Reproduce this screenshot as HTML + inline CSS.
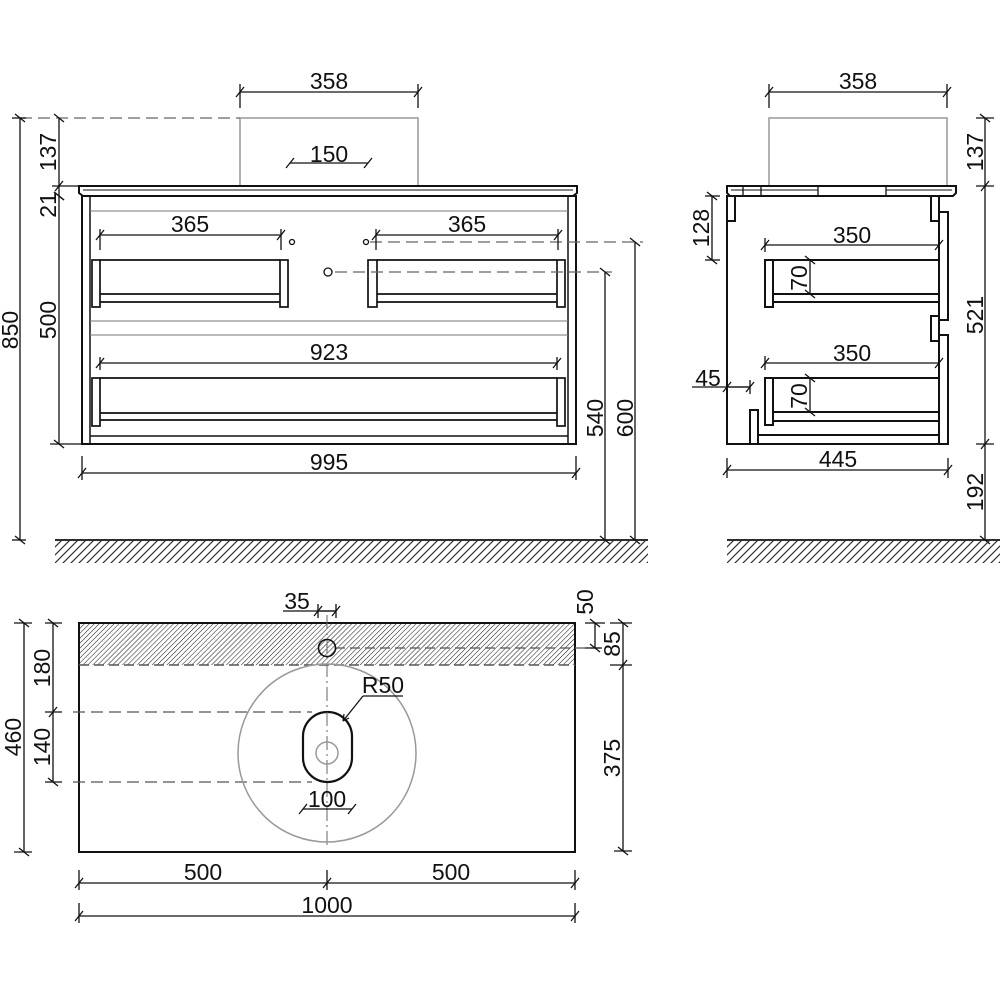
<!DOCTYPE html>
<html><head><meta charset="utf-8"><style>
html,body{margin:0;padding:0;background:#fff;}
svg{display:block;}
text{font-family:"Liberation Sans",sans-serif;font-size:23px;fill:#111;}
</style></head><body>
<svg width="1000" height="1000" viewBox="0 0 1000 1000" xmlns="http://www.w3.org/2000/svg">
<defs>
<marker id="t" viewBox="-6 -6 12 12" markerWidth="12" markerHeight="12" markerUnits="userSpaceOnUse" orient="auto" refX="0" refY="0">
<path d="M-4,5 L4,-5" stroke="#111" stroke-width="1.3"/>
</marker>
<pattern id="h1" width="3.5" height="3.5" patternUnits="userSpaceOnUse" patternTransform="rotate(45)">
<line x1="0" y1="0" x2="0" y2="3.5" stroke="#222" stroke-width="1.1"/>
</pattern>
<pattern id="g" width="8" height="24" patternUnits="userSpaceOnUse" patternTransform="skewX(-45)">
<line x1="2" y1="0" x2="2" y2="24" stroke="#222" stroke-width="1.6"/>
</pattern>
</defs>

<g fill="none" stroke="#111" stroke-width="1.3">
<!-- ===== FRONT VIEW ===== -->
<rect x="240" y="118" width="178" height="68" stroke="#999" stroke-width="1.5"/>
<line x1="20" y1="118" x2="240" y2="118" stroke="#666" stroke-dasharray="12,6"/>
<path d="M79,186 H577 V193 L573,196 H83 L79,193 Z" stroke-width="2"/>
<line x1="83" y1="190" x2="573" y2="190" stroke-width="1"/>
<rect x="82" y="196" width="494" height="248" stroke-width="2"/>
<line x1="90" y1="196" x2="90" y2="444" stroke-width="1.5"/>
<line x1="568" y1="196" x2="568" y2="444" stroke-width="1.5"/>
<line x1="90" y1="211" x2="568" y2="211" stroke="#777" stroke-width="1"/>
<line x1="90" y1="321" x2="568" y2="321" stroke="#777" stroke-width="1"/>
<line x1="90" y1="335" x2="568" y2="335" stroke="#777" stroke-width="1"/>
<line x1="90" y1="436" x2="568" y2="436" stroke-width="1.5"/>
<g stroke-width="1.7">
<line x1="100" y1="260" x2="280" y2="260"/><line x1="100" y1="294" x2="280" y2="294"/><line x1="100" y1="302" x2="280" y2="302"/>
<rect x="92" y="260" width="8" height="47"/><rect x="280" y="260" width="8" height="47"/>
<line x1="377" y1="260" x2="557" y2="260"/><line x1="377" y1="294" x2="557" y2="294"/><line x1="377" y1="302" x2="557" y2="302"/>
<rect x="368" y="260" width="9" height="47"/><rect x="557" y="260" width="8" height="47"/>
<line x1="100" y1="378" x2="557" y2="378"/><line x1="100" y1="413" x2="557" y2="413"/><line x1="100" y1="420" x2="557" y2="420"/>
<rect x="92" y="378" width="8" height="48"/><rect x="557" y="378" width="8" height="48"/>
</g>
<circle cx="292" cy="242" r="2.5"/><circle cx="366" cy="242" r="2.5"/><circle cx="328" cy="272" r="4"/>
<line x1="370" y1="242" x2="643" y2="242" stroke="#666" stroke-dasharray="12,6"/>
<line x1="335" y1="272" x2="612" y2="272" stroke="#666" stroke-dasharray="12,6"/>
<line x1="240" y1="92" x2="418" y2="92" marker-start="url(#t)" marker-end="url(#t)"/>
<line x1="240" y1="84" x2="240" y2="108"/><line x1="418" y1="84" x2="418" y2="108"/>
<line x1="290" y1="163" x2="368" y2="163" marker-start="url(#t)" marker-end="url(#t)"/>
<line x1="100" y1="235" x2="281" y2="235" marker-start="url(#t)" marker-end="url(#t)"/>
<line x1="100" y1="229" x2="100" y2="250"/><line x1="281" y1="229" x2="281" y2="250"/>
<line x1="376" y1="235" x2="558" y2="235" marker-start="url(#t)" marker-end="url(#t)"/>
<line x1="376" y1="229" x2="376" y2="250"/><line x1="558" y1="229" x2="558" y2="250"/>
<line x1="100" y1="363" x2="557" y2="363" marker-start="url(#t)" marker-end="url(#t)"/>
<line x1="100" y1="357" x2="100" y2="370"/><line x1="557" y1="357" x2="557" y2="370"/>
<line x1="82" y1="473" x2="576" y2="473" marker-start="url(#t)" marker-end="url(#t)"/>
<line x1="82" y1="456" x2="82" y2="480"/><line x1="576" y1="456" x2="576" y2="480"/>
<line x1="20" y1="118" x2="20" y2="540" marker-start="url(#t)" marker-end="url(#t)"/>
<line x1="12" y1="118" x2="26" y2="118"/><line x1="12" y1="540" x2="26" y2="540"/>
<line x1="59" y1="118" x2="59" y2="196" marker-start="url(#t)" marker-end="url(#t)"/>
<line x1="59" y1="186" x2="59" y2="186" marker-start="url(#t)"/>
<line x1="52" y1="186" x2="79" y2="186"/>
<line x1="59" y1="196" x2="59" y2="444" marker-start="url(#t)" marker-end="url(#t)"/>
<line x1="50" y1="444" x2="82" y2="444"/>
<line x1="605" y1="272" x2="605" y2="540" marker-start="url(#t)" marker-end="url(#t)"/>
<line x1="635" y1="242" x2="635" y2="540" marker-start="url(#t)" marker-end="url(#t)"/>
<line x1="55" y1="540" x2="648" y2="540" stroke-width="1.8"/>
<rect x="55" y="541" width="593" height="22" fill="url(#g)" stroke="none"/>

<!-- ===== SIDE VIEW ===== -->
<rect x="769" y="118" width="178" height="68" stroke="#999" stroke-width="1.5"/>
<path d="M727,186 H956 V193 L953,196 H730 L727,193 Z" stroke-width="2"/>
<line x1="731" y1="190" x2="818" y2="190" stroke-width="1"/><line x1="886" y1="190" x2="952" y2="190" stroke-width="1"/>
<line x1="743" y1="186" x2="743" y2="196"/><line x1="761" y1="186" x2="761" y2="196"/>
<line x1="818" y1="186" x2="818" y2="196"/><line x1="886" y1="186" x2="886" y2="196"/>
<g stroke-width="2">
<path d="M727,196 V444 H939"/>
<rect x="727" y="196" width="8" height="25"/>
<rect x="931" y="196" width="8" height="25"/>
<path d="M939,212 H948 V320 H939 Z"/>
<rect x="931" y="316" width="8" height="25"/>
<path d="M939,335 H948 V444 H939 Z"/>
<line x1="939" y1="221" x2="939" y2="335"/>
<rect x="765" y="260" width="8" height="47"/>
<line x1="773" y1="260" x2="939" y2="260"/><line x1="773" y1="294" x2="939" y2="294"/><line x1="773" y1="302" x2="939" y2="302"/>
<rect x="765" y="378" width="8" height="47"/>
<line x1="773" y1="378" x2="939" y2="378"/><line x1="773" y1="412" x2="939" y2="412"/><line x1="773" y1="421" x2="939" y2="421"/>
<rect x="750" y="410" width="8" height="34"/>
<line x1="758" y1="435" x2="939" y2="435"/>
</g>
<line x1="769" y1="92" x2="947" y2="92" marker-start="url(#t)" marker-end="url(#t)"/>
<line x1="769" y1="84" x2="769" y2="108"/><line x1="947" y1="84" x2="947" y2="108"/>
<line x1="712" y1="196" x2="712" y2="260" marker-start="url(#t)" marker-end="url(#t)"/>
<line x1="705" y1="196" x2="720" y2="196"/><line x1="705" y1="260" x2="720" y2="260"/>
<line x1="765" y1="245" x2="939" y2="245" marker-start="url(#t)" marker-end="url(#t)"/>
<line x1="765" y1="238" x2="765" y2="252"/>
<line x1="765" y1="363" x2="939" y2="363" marker-start="url(#t)" marker-end="url(#t)"/>
<line x1="765" y1="356" x2="765" y2="370"/>
<line x1="810" y1="260" x2="810" y2="294" marker-start="url(#t)" marker-end="url(#t)"/>
<line x1="810" y1="378" x2="810" y2="412" marker-start="url(#t)" marker-end="url(#t)"/>
<line x1="692" y1="387" x2="750" y2="387"/>
<line x1="727" y1="387" x2="750" y2="387" marker-start="url(#t)" marker-end="url(#t)"/>
<line x1="750" y1="380" x2="750" y2="394"/>
<line x1="727" y1="470" x2="948" y2="470" marker-start="url(#t)" marker-end="url(#t)"/>
<line x1="727" y1="458" x2="727" y2="478"/><line x1="948" y1="458" x2="948" y2="478"/>
<line x1="985" y1="118" x2="985" y2="540" marker-start="url(#t)" marker-end="url(#t)"/>
<line x1="985" y1="186" x2="985" y2="186" marker-start="url(#t)"/>
<line x1="985" y1="444" x2="985" y2="444" marker-start="url(#t)"/>
<line x1="976" y1="118" x2="994" y2="118"/><line x1="976" y1="186" x2="994" y2="186"/><line x1="976" y1="444" x2="994" y2="444"/>
<line x1="727" y1="540" x2="1000" y2="540" stroke-width="1.8"/>
<rect x="727" y="541" width="273" height="22" fill="url(#g)" stroke="none"/>

<!-- ===== PLAN VIEW ===== -->
<rect x="79" y="623" width="496" height="42" fill="url(#h1)" stroke="none"/>
<rect x="79" y="623" width="496" height="229" stroke-width="2"/>
<line x1="79" y1="665" x2="575" y2="665" stroke="#555" stroke-width="1.6" stroke-dasharray="10,5"/>
<line x1="335" y1="648" x2="602" y2="648" stroke="#555" stroke-dasharray="10,5"/>
<line x1="327" y1="615" x2="327" y2="845" stroke="#666" stroke-width="1" stroke-dasharray="14,4,2,4"/>
<line x1="73" y1="712" x2="312" y2="712" stroke="#555" stroke-dasharray="12,6"/>
<line x1="73" y1="782" x2="312" y2="782" stroke="#555" stroke-dasharray="12,6"/>
<circle cx="327" cy="753" r="89" stroke="#999" stroke-width="1.5"/>
<circle cx="327" cy="648" r="8.5" stroke-width="1.6"/>
<rect x="303" y="712" width="49" height="70" rx="24.5" ry="24.5" stroke-width="2.2" fill="#fff"/>
<line x1="327" y1="712" x2="327" y2="782" stroke="#666" stroke-width="1" stroke-dasharray="14,4,2,4"/>
<circle cx="327" cy="753" r="11" stroke="#999" stroke-width="1.5"/>
<line x1="363" y1="696" x2="403" y2="696"/>
<line x1="363" y1="696" x2="343" y2="721"/>
<path d="M343,721 l1,-7 M343,721 l6,-3" stroke-width="1.2"/>
<line x1="303" y1="809" x2="352" y2="809" marker-start="url(#t)" marker-end="url(#t)"/>
<line x1="283" y1="611" x2="336" y2="611"/>
<line x1="318" y1="611" x2="336" y2="611" marker-start="url(#t)" marker-end="url(#t)"/>
<line x1="318" y1="604" x2="318" y2="618"/><line x1="336" y1="604" x2="336" y2="618"/>
<line x1="24" y1="623" x2="24" y2="852" marker-start="url(#t)" marker-end="url(#t)"/>
<line x1="14" y1="623" x2="32" y2="623"/><line x1="14" y1="852" x2="32" y2="852"/>
<line x1="53" y1="623" x2="53" y2="782" marker-start="url(#t)" marker-end="url(#t)"/>
<line x1="53" y1="712" x2="53" y2="712" marker-start="url(#t)"/>
<line x1="45" y1="623" x2="62" y2="623"/><line x1="45" y1="712" x2="62" y2="712"/><line x1="45" y1="782" x2="62" y2="782"/>
<line x1="595" y1="623" x2="595" y2="648" marker-start="url(#t)" marker-end="url(#t)"/>
<line x1="585" y1="623" x2="605" y2="623"/><line x1="585" y1="648" x2="602" y2="648"/>
<line x1="623" y1="623" x2="623" y2="851" marker-start="url(#t)" marker-end="url(#t)"/>
<line x1="623" y1="665" x2="623" y2="665" marker-start="url(#t)"/>
<line x1="610" y1="623" x2="632" y2="623"/><line x1="610" y1="665" x2="632" y2="665"/><line x1="614" y1="851" x2="632" y2="851"/>
<line x1="79" y1="883" x2="575" y2="883" marker-start="url(#t)" marker-end="url(#t)"/>
<line x1="327" y1="883" x2="327" y2="883" marker-start="url(#t)"/>
<line x1="79" y1="870" x2="79" y2="890"/><line x1="327" y1="870" x2="327" y2="890"/><line x1="575" y1="870" x2="575" y2="890"/>
<line x1="79" y1="916" x2="575" y2="916" marker-start="url(#t)" marker-end="url(#t)"/>
<line x1="79" y1="903" x2="79" y2="923"/><line x1="575" y1="903" x2="575" y2="923"/>
</g>

<g text-anchor="middle">
<text x="329" y="89">358</text>
<text x="329" y="162">150</text>
<text x="190" y="232">365</text>
<text x="467" y="232">365</text>
<text x="329" y="360">923</text>
<text x="329" y="470">995</text>
<text transform="translate(18,330) rotate(-90)">850</text>
<text transform="translate(56,152) rotate(-90)">137</text>
<text transform="translate(56,205) rotate(-90)">21</text>
<text transform="translate(56,320) rotate(-90)">500</text>
<text transform="translate(603,418) rotate(-90)">540</text>
<text transform="translate(633,418) rotate(-90)">600</text>

<text x="858" y="89">358</text>
<text x="852" y="243">350</text>
<text x="852" y="361">350</text>
<text x="838" y="467">445</text>
<text x="708" y="386">45</text>
<text transform="translate(709,228) rotate(-90)">128</text>
<text transform="translate(807,278) rotate(-90)">70</text>
<text transform="translate(807,396) rotate(-90)">70</text>
<text transform="translate(983,152) rotate(-90)">137</text>
<text transform="translate(983,315) rotate(-90)">521</text>
<text transform="translate(983,492) rotate(-90)">192</text>

<text x="297" y="609">35</text>
<text x="383" y="693">R50</text>
<text x="327" y="807">100</text>
<text x="203" y="880">500</text>
<text x="451" y="880">500</text>
<text x="327" y="913">1000</text>
<text transform="translate(21,737) rotate(-90)">460</text>
<text transform="translate(50,668) rotate(-90)">180</text>
<text transform="translate(50,747) rotate(-90)">140</text>
<text transform="translate(593,602) rotate(-90)">50</text>
<text transform="translate(620,644) rotate(-90)">85</text>
<text transform="translate(620,758) rotate(-90)">375</text>
</g>
</svg>
</body></html>
